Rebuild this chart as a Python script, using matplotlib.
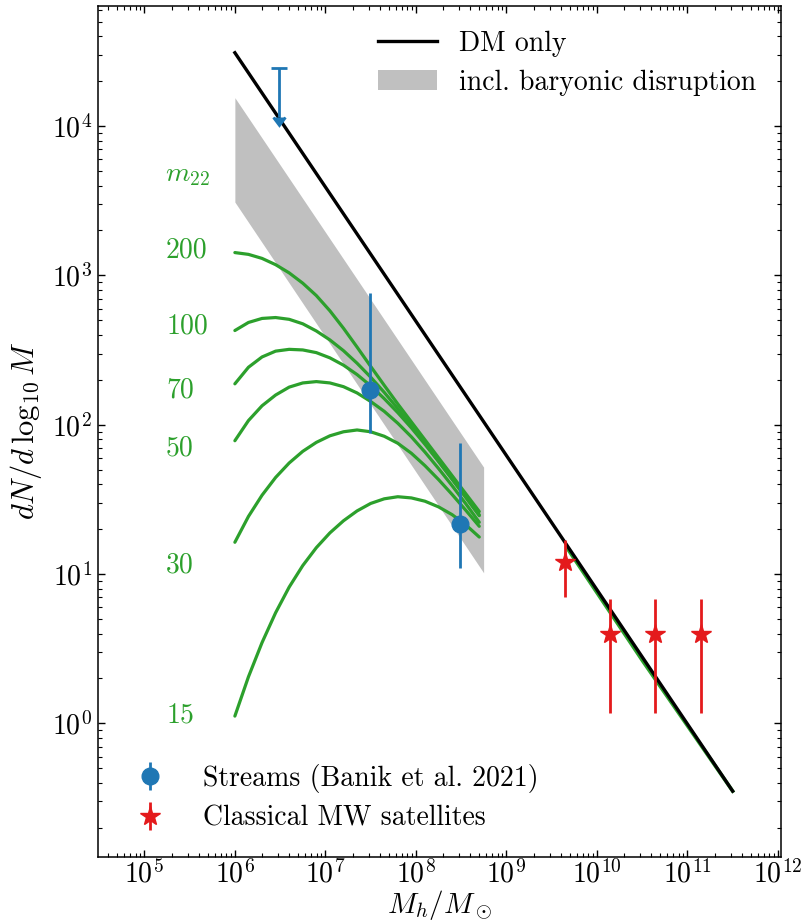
import numpy as np
import matplotlib
matplotlib.use("Agg")
import matplotlib.pyplot as plt
from matplotlib.ticker import FixedLocator, LogLocator, NullFormatter
from matplotlib.patches import Patch
from matplotlib.lines import Line2D
from matplotlib.collections import LineCollection
from matplotlib.container import ErrorbarContainer

plt.rcParams["font.family"] = ["cmr10", "DejaVu Serif"]
plt.rcParams["mathtext.fontset"] = "cm"
plt.rcParams["axes.unicode_minus"] = False
plt.rcParams["axes.formatter.use_mathtext"] = True

# ---------------- data ----------------
dm_mass = [1e6, 3.16e11]
dm_dndlogm = [3.1e4, 0.352]

cdm_tail_mass = [4.8e9, 3.2e10, 3.16e11]
cdm_tail_dndlogm = [14.6, 2.62, 0.352]

band_mass = [1e6, 5.6e8]
band_low = [3100, 10.2]
band_high = [1.55e4, 52]

m22_values = ["200", "100", "70", "50", "30", "15"]
m22_label_y = [1480, 453, 171, 70, 11.4, 1.13]

# log10(M) grid on which the green curves were read
logm_grid = [6.00, 6.15, 6.30, 6.45, 6.60, 6.75, 6.90, 7.05, 7.20, 7.35,
             7.50, 7.65, 7.80, 7.95, 8.10, 8.25, 8.40, 8.55, 8.70]

logn_200 = [3.153, 3.141, 3.114, 3.072, 3.017, 2.948, 2.865, 2.763, 2.646, 2.520,
            2.391, 2.264, 2.139, 2.019, 1.899, 1.779, 1.659, 1.539, 1.419]
logn_100 = [2.631, 2.685, 2.712, 2.718, 2.706, 2.676, 2.628, 2.568, 2.496, 2.412,
            2.319, 2.217, 2.108, 1.994, 1.877, 1.757, 1.637, 1.517, 1.397]
logn_70 = [2.274, 2.385, 2.454, 2.493, 2.505, 2.501, 2.483, 2.448, 2.399, 2.336,
           2.261, 2.175, 2.081, 1.979, 1.869, 1.754, 1.635, 1.514, 1.391]
logn_50 = [1.893, 2.028, 2.127, 2.199, 2.252, 2.280, 2.289, 2.280, 2.255, 2.213,
           2.156, 2.090, 2.010, 1.919, 1.817, 1.707, 1.592, 1.472, 1.347]
logn_30 = [1.213, 1.386, 1.528, 1.647, 1.744, 1.822, 1.882, 1.926, 1.953, 1.965,
           1.953, 1.923, 1.876, 1.809, 1.726, 1.633, 1.533, 1.428, 1.320]
logn_15 = [0.049, 0.312, 0.541, 0.741, 0.913, 1.057, 1.177, 1.276, 1.357, 1.423,
           1.473, 1.504, 1.518, 1.510, 1.488, 1.450, 1.398, 1.330, 1.248]

stream_mass = [3.1e7, 3.1e8]
stream_val = [171, 21.6]
stream_err_lo = [83, 10.6]
stream_err_hi = [589, 53.9]

stream_limit_mass = [3.1e6]
stream_limit_val = [2.45e4]
stream_limit_len = [1.3e4]

sat_mass = [4.4e9, 1.4e10, 4.4e10, 1.4e11]
sat_val = [12, 4, 4, 4]
sat_err = [5, 2.83, 2.83, 2.83]

xtick_vals = [1e5, 1e6, 1e7, 1e8, 1e9, 1e10, 1e11, 1e12]
ytick_vals = [1e0, 1e1, 1e2, 1e3, 1e4]

# ---------------- figure ----------------
GREEN = "#2ca02c"
BLUE = "#1f77b4"
RED = "#e41a1c"
GRAY = "#c0c0c0"

fig = plt.figure(figsize=(8.02, 9.22), dpi=100)
ax = fig.add_axes([0.1218, 0.0708, 0.852, 0.923])
ax.set_xscale("log")
ax.set_yscale("log")

ax.fill_between(band_mass, band_low, band_high, color=GRAY, lw=0, zorder=1)

m_grid = 10 ** np.array(logm_grid)
for ln in [logn_200, logn_100, logn_70, logn_50, logn_30, logn_15]:
    ax.plot(m_grid, 10 ** np.array(ln), color=GREEN, lw=2.3,
            solid_joinstyle="round", solid_capstyle="round", zorder=2)
ax.plot(cdm_tail_mass, cdm_tail_dndlogm, color=GREEN, lw=2.6, zorder=2)

ax.plot(dm_mass, dm_dndlogm, color="black", lw=2.4, zorder=3)

ax.errorbar(stream_mass, stream_val, yerr=[stream_err_lo, stream_err_hi],
            fmt="o", color=BLUE, ms=12, elinewidth=2, capsize=0, zorder=5)
lim = ax.errorbar(stream_limit_mass, stream_limit_val, yerr=stream_limit_len,
                  uplims=True, fmt="none", ecolor=BLUE, elinewidth=2, capsize=6,
                  capthick=2, zorder=5)
for cl in lim[1]:
    if cl.get_marker() != "_":
        cl.set_markersize(8)
ax.errorbar(sat_mass, sat_val, yerr=sat_err, fmt="*", color=RED, ms=15,
            elinewidth=2, capsize=0, zorder=5)

for lab, yv in zip(m22_values, m22_label_y):
    ax.text(10 ** 5.24, yv, lab, color=GREEN, fontsize=20, ha="left", va="center")
ax.text(10 ** 5.23, 10 ** 3.672, r"$m_{22}$", color=GREEN, fontsize=20,
        ha="left", va="center")

ax.set_xlim(3.05e4, 1.08e12)
ax.set_ylim(0.128, 6.4e4)

ax.xaxis.set_major_locator(FixedLocator(xtick_vals))
ax.xaxis.set_minor_locator(LogLocator(base=10, subs=np.arange(2, 10), numticks=100))
ax.xaxis.set_minor_formatter(NullFormatter())
ax.yaxis.set_major_locator(FixedLocator(ytick_vals))
ax.yaxis.set_minor_locator(LogLocator(base=10, subs=np.arange(2, 10), numticks=100))
ax.yaxis.set_minor_formatter(NullFormatter())
ax.set_xticklabels([rf"$10^{{{int(np.log10(v))}}}$" for v in xtick_vals])
ax.set_yticklabels([rf"$10^{{{int(np.log10(v))}}}$" for v in ytick_vals])
ax.tick_params(which="both", direction="in", top=True, right=True, labelsize=20)
ax.tick_params(which="major", length=5, width=1, pad=4)
ax.tick_params(axis="x", which="major", pad=2)
ax.tick_params(which="minor", length=3, width=0.8)
for s in ax.spines.values():
    s.set_linewidth(1.1)

ax.set_xlabel(r"$M_h/M_\odot$", fontsize=21, labelpad=0)
ax.set_ylabel(r"$dN/d\,\log_{10}M$", fontsize=22, labelpad=6)

h1 = [Line2D([], [], color="black", lw=2.4), Patch(facecolor=GRAY, edgecolor="none")]
leg1 = ax.legend(h1, ["DM only", "incl. baryonic disruption"], loc="upper right",
                 frameon=False, fontsize=20, handlelength=2.1, handletextpad=0.8,
                 labelspacing=0.45)
ax.add_artist(leg1)

eb_h = []
for col, mk, ms in [(BLUE, "o", 12), (RED, "*", 15)]:
    ln = Line2D([], [], color=col, marker=mk, ms=ms, lw=0)
    bar = LineCollection([], colors=col, linewidths=2)
    eb_h.append(ErrorbarContainer((ln, (), (bar,)), has_xerr=False, has_yerr=True))
ax.legend(eb_h, ["Streams (Banik et al. 2021)", "Classical MW satellites"],
          loc="lower left", frameon=False, fontsize=20, handlelength=2.0,
          handletextpad=0.9, labelspacing=0.45)

fig.savefig("out.png", dpi=100)
